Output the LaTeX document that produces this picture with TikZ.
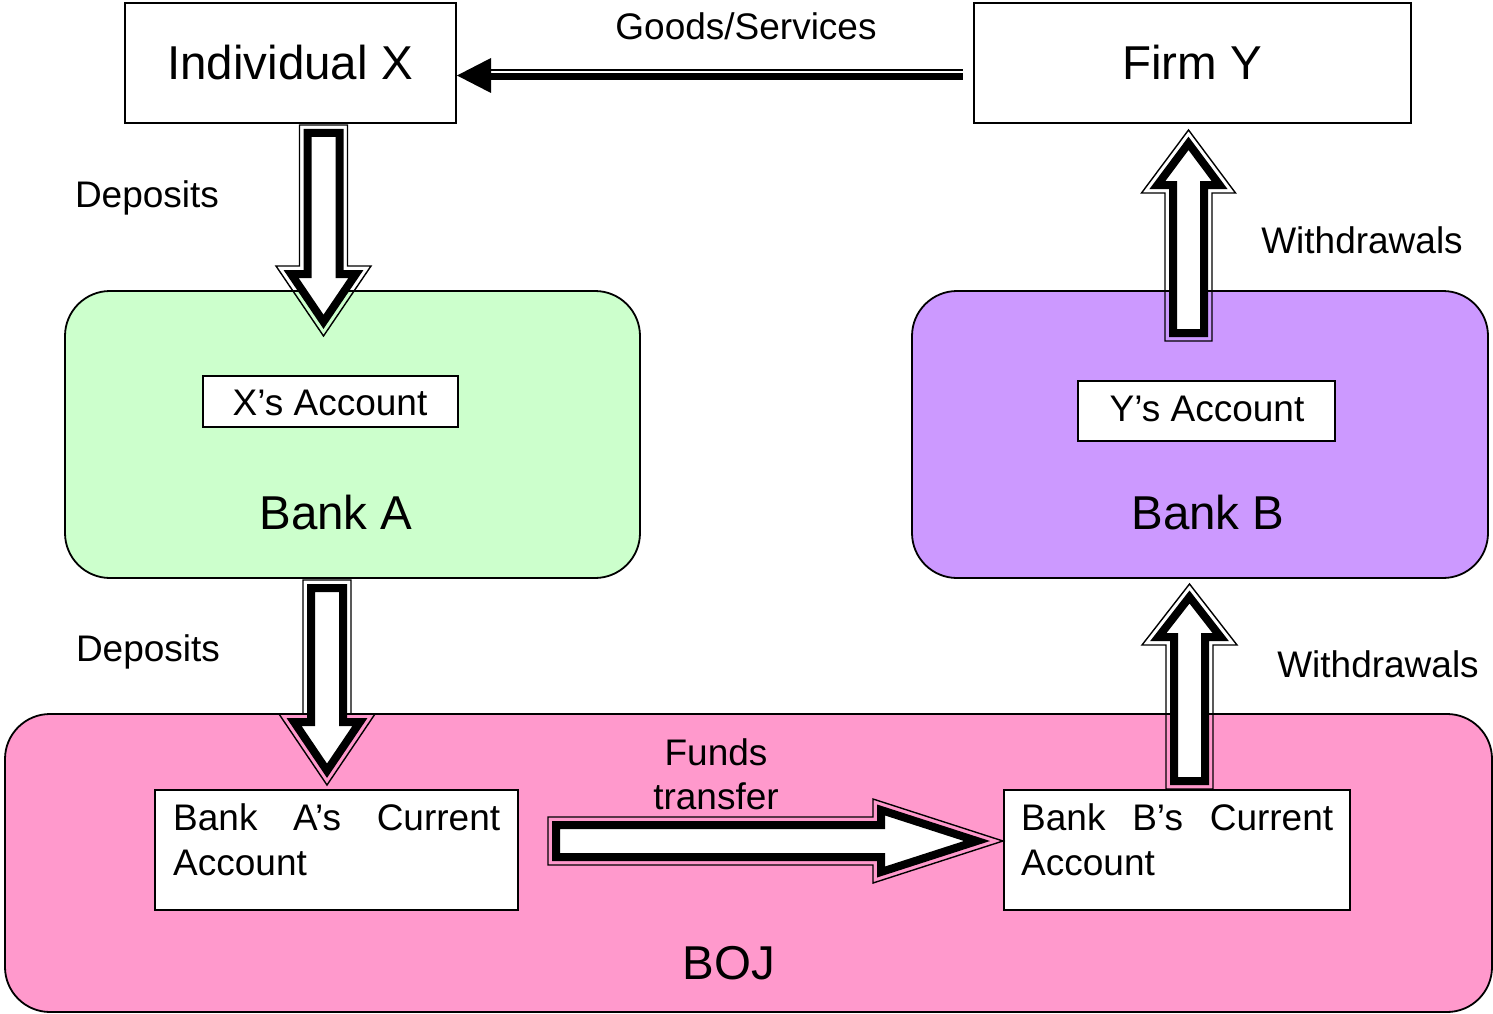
\documentclass[tikz,border=0pt]{standalone}
\usepackage{fontspec}
\setmainfont{Liberation Sans}
\usetikzlibrary{calc}
\definecolor{bankAc}{HTML}{CCFFCC}
\definecolor{bankBc}{HTML}{CC99FF}
\definecolor{bojc}{HTML}{FF99CC}
% block arrow: #1 start coordinate, #2 angle, #3 total length, #4 shaft half width, #5 head half width, #6 head length
\newcommand\blockarrow[6]{%
  \begin{scope}[shift={#1}, rotate=#2]
    \draw[line width=1.4pt, line join=miter] (0,-#4) -- ({#3-#6},-#4) -- ({#3-#6},-#5) -- (#3,0) -- ({#3-#6},#5) -- ({#3-#6},#4) -- (0,#4) -- cycle;
    \pgfmathsetmacro\bas{veclen(#6,#5)}
    \pgfmathsetmacro\batip{#3-8*\bas/(#5)}
    \pgfmathsetmacro\bawx{#3-#6+8}
    \pgfmathsetmacro\bawy{#5-(#5)*8/(#6)-8*\bas/(#6)}
    \pgfmathsetmacro\baw{#4-8}
    \draw[line width=8pt, fill=white, line join=miter] (8,-\baw) -- (\bawx,-\baw) -- (\bawx,-\bawy) -- (\batip,0) -- (\bawx,\bawy) -- (\bawx,\baw) -- (8,\baw) -- cycle;
  \end{scope}}
\begin{document}
\begin{tikzpicture}[x=1pt,y=-1pt,
  plainbox/.style={draw=black, line width=1.8pt, fill=white, inner sep=0pt},
  bankbox/.style={draw=black, line width=1.8pt, rounded corners=45pt, inner sep=0pt},
  lbl/.style={inner sep=0pt, anchor=base, font=\fontsize{37}{44}\selectfont},
  big/.style={inner sep=0pt, anchor=base, font=\fontsize{47.5}{56}\selectfont},
  acctext/.style={inner sep=0pt, anchor=north west, align=left, font=\fontsize{37}{45}\selectfont}]
\fill[white] (0,0) rectangle (1493,1014);
\useasboundingbox (0,0) rectangle (1493,1014);

% containers
\node[bankbox, fill=bankAc, minimum width=575pt, minimum height=287pt] (bankA) at (352.5,434.5) {};
\node[bankbox, fill=bankBc, minimum width=576pt, minimum height=287pt] (bankB) at (1200,434.5) {};
\node[bankbox, fill=bojc, minimum width=1487pt, minimum height=298pt] (boj) at (748.5,863) {};

% boxes
\node[plainbox, minimum width=331pt, minimum height=120pt] (indX) at (290.5,63) {};
\node[plainbox, minimum width=437pt, minimum height=120pt] (firmY) at (1192.5,63) {};
\node[plainbox, minimum width=255pt, minimum height=51pt] (xacc) at (330.5,401.5) {};
\node[plainbox, minimum width=257pt, minimum height=60pt] (yacc) at (1206.5,411) {};
\node[plainbox, minimum width=363pt, minimum height=120pt] (acA) at (336.5,850) {};
\node[plainbox, minimum width=346pt, minimum height=120pt] (acB) at (1177,850) {};

% texts
\node[big] (indXt) at (290,80) {Individual X};
\node[big] (firmYt) at (1192,80) {Firm Y};
\node[lbl] (xaccT) at (330,415) {X’s Account};
\node[lbl] (yaccT) at (1207,421) {Y’s Account};
\node[big] (bankAt) at (336,529) {Bank A};
\node[big] (bankBt) at (1208,529) {Bank B};
\node[big] (bojt) at (729,979) {BOJ};
\node[acctext, text width=327pt] (acAt) at (173,803) {Bank\hfill A’s\hfill Current\\Account};
\node[acctext, text width=312pt] (acBt) at (1021,803) {Bank\hfill B’s\hfill Current\\Account};

\node[lbl] (gsT) at (746,40) {Goods/Services};
\node[lbl] (dep1) at (147,207) {Deposits};
\node[lbl] (dep2) at (148,661) {Deposits};
\node[lbl] (wd1) at (1362,253) {Withdrawals};
\node[lbl] (wd2) at (1378,677) {Withdrawals};
\node[lbl] (funds) at (716,765) {Funds};
\node[lbl] (transf) at (716,809) {transfer};

% goods/services arrow
\coordinate (gsTip) at (457,75.5);
\coordinate (gsEnd) at (963,75.5);
\fill (gsTip) -- ++(34,-17.5) -- ++(0,35) -- cycle;
\draw[line width=1.4pt] ($(gsTip)+(33,-5.5)$) -- ($(gsEnd)+(0,-5.5)$);
\draw[line width=6.7pt] ($(gsTip)+(33,1.2)$) -- ($(gsEnd)+(0,1.2)$);

% block arrows
\coordinate (d1s) at (323.5,125);
\coordinate (d2s) at (327,580);
\coordinate (w1s) at (1188.5,341);
\coordinate (w2s) at (1189.5,789);
\coordinate (fts) at (548,841);
\blockarrow{(d1s)}{-90}{211}{24}{47.5}{70}
\blockarrow{(d2s)}{-90}{205}{24}{48}{71}
\blockarrow{(w1s)}{90}{211}{23.5}{47}{63}
\blockarrow{(w2s)}{90}{205}{23.5}{47.5}{61}
\blockarrow{(fts)}{0}{455}{24}{42}{130}
\end{tikzpicture}
\end{document}
